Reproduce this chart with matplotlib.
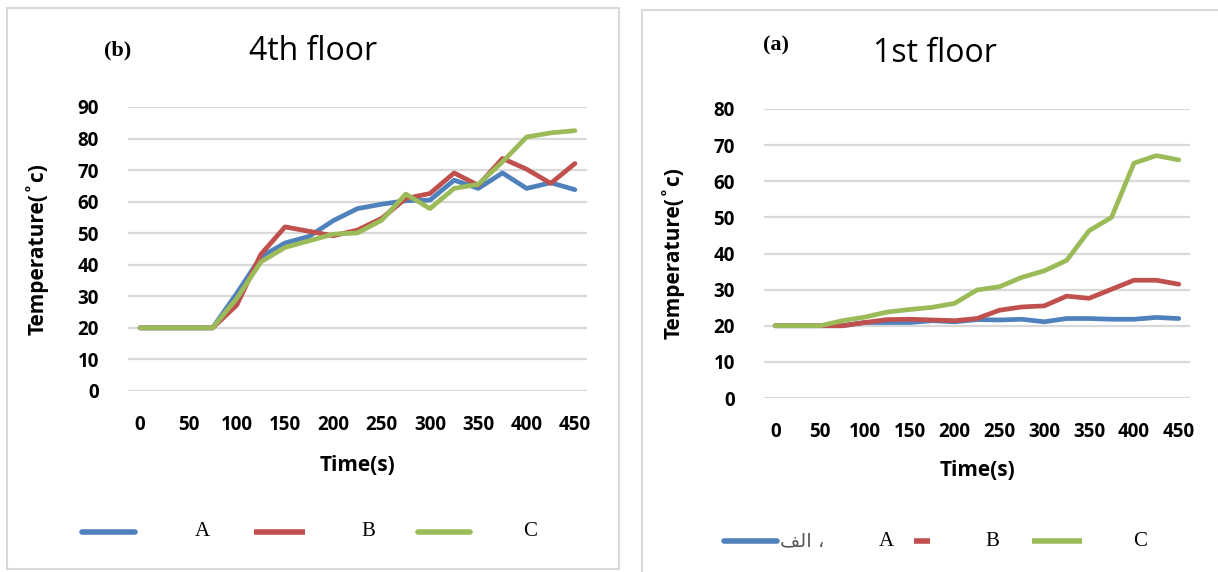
import matplotlib
matplotlib.use("Agg")
import matplotlib.pyplot as plt
from matplotlib.lines import Line2D
from matplotlib.patches import Rectangle

# ---------------- data ----------------
time_s = [0, 25, 50, 75, 100, 125, 150, 175, 200, 225, 250, 275, 300, 325, 350, 375, 400, 425, 450]
tick_labels = ["0", "50", "100", "150", "200", "250", "300", "350", "400", "450"]

# 4th floor (panel b)
f4_A = [20, 20, 20, 20, 30.9, 42.5, 46.9, 49.0, 54.0, 57.8, 59.2, 60.3, 60.5, 66.8, 64.2, 69.1, 64.2, 66.0, 63.8]
f4_B = [20, 20, 20, 20, 27.2, 43.3, 52.0, 50.6, 49.2, 51.0, 54.7, 61.0, 62.6, 69.1, 65.2, 73.7, 70.3, 65.8, 72.1]
f4_C = [20, 20, 20, 20, 29.3, 40.9, 45.5, 47.6, 49.7, 50.1, 54.1, 62.4, 57.8, 64.2, 65.5, 72.6, 80.5, 81.8, 82.5]

# 1st floor (panel a)
f1_A = [20, 20, 20, 20, 20.9, 20.9, 20.9, 21.4, 21.1, 21.7, 21.6, 21.8, 21.1, 22.0, 22.0, 21.8, 21.8, 22.3, 22.0]
f1_B = [20, 20, 20, 20, 20.9, 21.7, 21.8, 21.6, 21.4, 22.0, 24.3, 25.2, 25.5, 28.2, 27.6, 30.1, 32.6, 32.6, 31.5]
f1_C = [20, 20, 20, 21.4, 22.4, 23.8, 24.5, 25.1, 26.2, 29.9, 30.8, 33.4, 35.2, 38.1, 46.3, 50.0, 65.0, 67.1, 65.9]

series_names = ["A", "B", "C"]
colors = ["#4F81BD", "#C0504D", "#9BBB59"]
grid_color = "#D9D9D9"

W, H = 1218, 572
fig = plt.figure(figsize=(W / 100, H / 100), dpi=100)
fig.patch.set_facecolor("white")

sans = ["Open Sans", "DejaVu Sans"]
serif = ["Liberation Serif", "DejaVu Serif"]


def fx(px):
    return px / W


def fy(py):
    return 1 - py / H


def make_axes(x0, x1, ytop, ybot):
    return fig.add_axes([fx(x0), fy(ybot), fx(x1) - fx(x0), fy(ytop) - fy(ybot)])


def style(ax, ymax, ystep, xpad):
    ax.set_xlim(-0.5, len(time_s) - 0.5)
    ax.set_ylim(0, ymax)
    ax.set_yticks(range(0, ymax + 1, ystep))
    ax.set_yticklabels([str(v) for v in range(0, ymax + 1, ystep)],
                       fontsize=13.5, fontweight="bold", family=sans)
    ax.set_xticks(range(0, len(time_s), 2))
    ax.set_xticklabels(tick_labels, fontsize=13.5, fontweight="bold", family=sans)
    ax.tick_params(axis="both", length=0)
    ax.tick_params(axis="y", pad=21)
    ax.tick_params(axis="x", pad=xpad)
    for s in ax.spines.values():
        s.set_visible(False)
    ax.grid(axis="y", color=grid_color, linewidth=1.6)
    ax.set_axisbelow(True)
    ax.set_facecolor("none")


# frames
fig.add_artist(Rectangle((fx(7), fy(569)), fx(619) - fx(7), fy(8) - fy(569),
                         transform=fig.transFigure, fill=False, edgecolor=grid_color, linewidth=1.5))
fig.add_artist(Rectangle((fx(642), fy(600)), fx(1260) - fx(642), fy(10) - fy(600),
                         transform=fig.transFigure, fill=False, edgecolor=grid_color, linewidth=1.5))

x = list(range(len(time_s)))

# ---- left panel: 4th floor ----
axL = make_axes(128, 587, 107, 391)
style(axL, 90, 10, 17)
for ys, c in zip([f4_A, f4_B, f4_C], colors):
    axL.plot(x, ys, color=c, linewidth=3.4, solid_capstyle="round", solid_joinstyle="round")
axL.set_xlabel("Time(s)", fontsize=15, fontweight="bold", family=sans, labelpad=15)
axL.set_ylabel("Temperature(\u02dac)", fontsize=15, fontweight="bold", family=sans, labelpad=21)

# ---- right panel: 1st floor ----
axR = make_axes(764, 1190, 109, 398)
style(axR, 80, 10, 17)
for ys, c in zip([f1_A, f1_B, f1_C], colors):
    axR.plot(x, ys, color=c, linewidth=3.4, solid_capstyle="round", solid_joinstyle="round")
axR.set_xlabel("Time(s)", fontsize=15, fontweight="bold", family=sans, labelpad=13)
axR.set_ylabel("Temperature(\u02dac)", fontsize=15, fontweight="bold", family=sans, labelpad=21)

# titles
fig.text(fx(118), fy(50), "(b)", fontsize=16, fontweight="bold", family=serif, ha="center", va="center")
fig.text(fx(313), fy(52), "4th floor", fontsize=23, family=sans, ha="center", va="center")
fig.text(fx(776), fy(45), "(a)", fontsize=16, fontweight="bold", family=serif, ha="center", va="center")
fig.text(fx(935), fy(54), "1st floor", fontsize=23, family=sans, ha="center", va="center")

# legends (manual, as in the reference)
def key(x0, x1, y, c, cap="round"):
    fig.add_artist(Line2D([fx(x0), fx(x1)], [fy(y), fy(y)], transform=fig.transFigure,
                          color=c, linewidth=4, solid_capstyle=cap))

ly = 532
key(82, 135, ly, colors[0])
fig.text(fx(202), fy(ly), series_names[0], fontsize=15, family=serif, ha="center", va="center")
key(254, 305, ly, colors[1], cap="butt")
fig.text(fx(368), fy(ly), series_names[1], fontsize=15, family=serif, ha="center", va="center")
key(418, 470, ly, colors[2])
fig.text(fx(530), fy(ly), series_names[2], fontsize=15, family=serif, ha="center", va="center")

ry = 541
key(724, 777, ry, colors[0])
fig.text(fx(780), fy(ry), "\uFED2\uFEDF\uFE8D \u060C", fontsize=14, color="#595959",
         family=["DejaVu Sans"], ha="left", va="center")
fig.text(fx(886), fy(ry), series_names[0], fontsize=15, family=serif, ha="center", va="center")
key(914, 930, ry, colors[1], cap="butt")
fig.text(fx(992), fy(ry), series_names[1], fontsize=15, family=serif, ha="center", va="center")
key(1032, 1082, ry, colors[2], cap="butt")
fig.text(fx(1140), fy(ry), series_names[2], fontsize=15, family=serif, ha="center", va="center")

fig.savefig("out.png", dpi=100, facecolor="white")
